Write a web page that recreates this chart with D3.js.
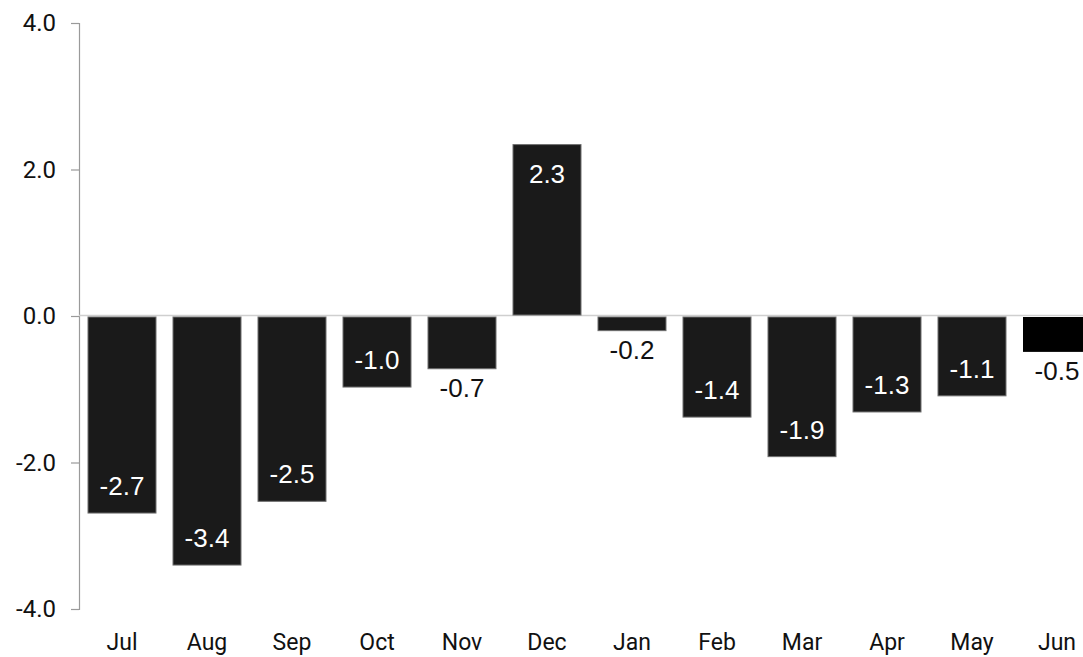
<!DOCTYPE html>
<html><head><meta charset="utf-8">
<script src="https://cdn.jsdelivr.net/npm/d3@7"></script>
<style>body{margin:0;background:#fff;overflow:hidden}</style>
</head><body>
<svg id="c" width="1083" height="657"></svg>
<script>
const months = ["Jul","Aug","Sep","Oct","Nov","Dec","Jan","Feb","Mar","Apr","May","Jun"];
const values = [-2.69,-3.40,-2.53,-0.97,-0.72,2.34,-0.20,-1.38,-1.92,-1.31,-1.09,-0.49];
const yTicks = [-4,-2,0,2,4];

const fmt = d => d3.format(".1f")(d).replace("\u2212","-");
const svg = d3.select("#c");
const y = d3.scaleLinear().domain([-4,4]).range([609,23]);
const x = d3.scaleBand().domain(months).range([79.5,1099.5]).paddingInner(0.2).paddingOuter(0.1);
const axisFont = "Roboto, 'Liberation Sans', sans-serif";
const labFont = "'Liberation Sans', Arial, sans-serif";

// y axis
const yAxis = d3.axisLeft(y).tickValues(yTicks).tickFormat(fmt).tickSize(8).tickPadding(15);
const ga = svg.append("g").attr("transform","translate(79,0)").call(yAxis);
ga.select(".domain").attr("stroke","#9a9a9a").attr("stroke-width",1.2);
ga.selectAll(".tick line").attr("stroke","#9a9a9a").attr("stroke-width",1.2);
ga.selectAll(".tick text").attr("font-family",axisFont).attr("font-size",24).attr("fill","#111");

// x labels
const xAxis = d3.axisBottom(x).tickSize(0).tickPadding(0);
const gx = svg.append("g").attr("transform","translate(0,634)").call(xAxis);
gx.select(".domain").remove();
gx.selectAll(".tick text").attr("font-family",axisFont).attr("font-size",23).attr("fill","#111").attr("dy","0.71em");

// zero line
svg.append("line").attr("x1",79).attr("x2",1083).attr("y1",y(0)-0.5).attr("y2",y(0)-0.5)
  .attr("stroke","#cfcfcf").attr("stroke-width",1.5);

// bars
svg.append("g").selectAll("rect").data(values).join("rect")
  .attr("x",(d,i)=>x(months[i]))
  .attr("width",x.bandwidth())
  .attr("y",d=>Math.min(y(0)+1,y(d)))
  .attr("height",d=>Math.abs(y(d)-y(0))-1)
  .attr("fill",(d,i)=>i===11?"#000":"#1a1a1a")
  .attr("stroke",(d,i)=>i===11?"none":"#6e6e6e")
  .attr("stroke-width",1);

// labels
svg.append("g").selectAll("text").data(values).join("text")
  .attr("x",(d,i)=>x(months[i])+x.bandwidth()/2)
  .attr("y",d=>{
    const h = Math.abs(y(d)-y(0));
    if (h < 60) return y(d) + 19;
    return d < 0 ? y(d) - 27 : y(d) + 29;
  })
  .attr("text-anchor","middle").attr("dominant-baseline","central")
  .attr("font-family",labFont).attr("font-size",26)
  .attr("fill",d=>Math.abs(y(d)-y(0))<60?"#111":"#fff")
  .text(fmt);
</script>
</body></html>
